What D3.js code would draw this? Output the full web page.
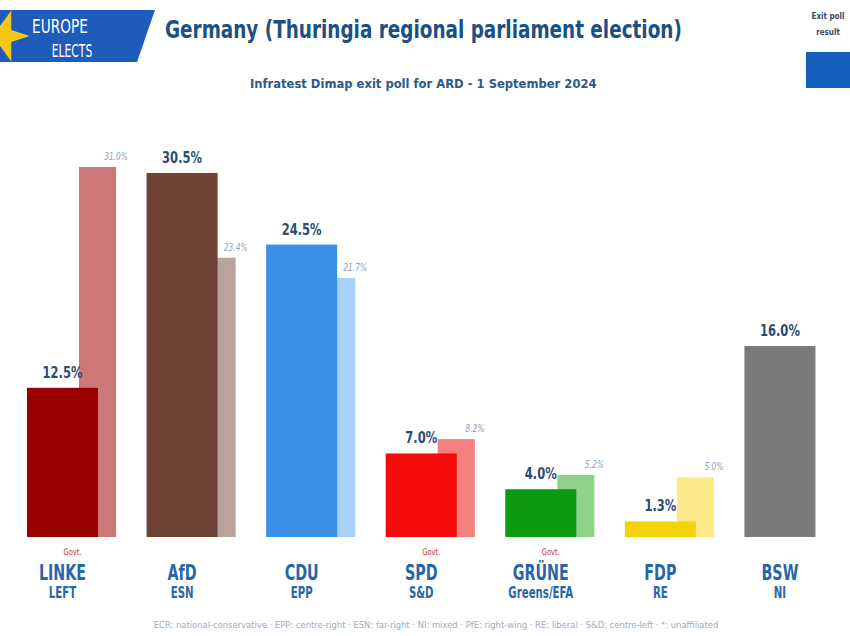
<!DOCTYPE html>
<html>
<head>
<meta charset="utf-8">
<script src="https://cdn.jsdelivr.net/npm/d3@7"></script>
<style>
  html, body { margin: 0; padding: 0; background: #fff; }
  svg { display: block; }
  text { font-family: 'DejaVu Sans', sans-serif; }
</style>
</head>
<body>
<svg id="chart" width="850" height="636"></svg>
<script>
// ---- data ----
const parties = ["LINKE", "AfD", "CDU", "SPD", "GRÜNE", "FDP", "BSW"];
const groups = ["LEFT", "ESN", "EPP", "S&D", "Greens/EFA", "RE", "NI"];
const exitPoll = [12.5, 30.5, 24.5, 7.0, 4.0, 1.3, 16.0];
const previous = [31.0, 23.4, 21.7, 8.2, 5.2, 5.0, null];
const govt = [true, false, false, true, true, false, false];
const mainColors = ["#990000", "#6e4336", "#3a8fe6", "#f50a0a", "#0c9a10", "#f5d10a", "#7a7a7a"];
const prevColors = ["#cc7878", "#b9a49d", "#a8d0fa", "#f58080", "#8ed389", "#fde887", null];
const title = "Germany (Thuringia regional parliament election)";
const subtitle = "Infratest Dimap exit poll for ARD - 1 September 2024";
const footnote = "ECR: national-conservative · EPP: centre-right · ESN: far-right · NI: mixed · PfE: right-wing · RE: liberal · S&D: centre-left · *: unaffiliated";

const svg = d3.select("#chart");

// ---- scales ----
const x = d3.scaleBand().domain(parties).range([27, 864]).padding(0);
const bw = x.bandwidth();
const mainW = bw * 0.594;
const prevOff = bw * 0.435;
const prevW = bw * 0.31;
const y = d3.scaleLinear().domain([0, 31]).range([537, 167]);

const data = parties.map((p, i) => ({ p, g: groups[i], v: exitPoll[i], pv: previous[i], govt: govt[i], c: mainColors[i], pc: prevColors[i] }));

// condensed text helper: group translated to anchor, horizontally squeezed
function condensed(sel, cls, rows, fx, fy, sx, txt, anchor) {
  const g = sel.selectAll("g." + cls).data(rows).join("g").attr("class", cls)
    .attr("transform", d => `translate(${fx(d)},${fy(d)}) scale(${sx},1)`);
  return g.append("text").attr("x", 0).attr("y", 0).attr("text-anchor", anchor || "middle").text(txt);
}
function single(sel, cls, px, py, sx, txt, anchor) {
  return condensed(sel, cls, [0], () => px, () => py, sx, () => txt, anchor);
}

// ---- logo ----
const logo = svg.append("g");
logo.append("path").attr("d", "M0,10 L155,10 L137,62 L0,62 Z").attr("fill", "#1d5cb8");
logo.append("path").attr("d", d3.symbol(d3.symbolStar, 800)()).attr("transform", "translate(3,36) rotate(18)").attr("fill", "#f5c518");
single(logo, "lg1", 60, 33, 0.72, "EUROPE").attr("font-size", 19).attr("fill", "#fff");
single(logo, "lg2", 72, 57, 0.6, "ELECTS").attr("font-size", 18).attr("fill", "#fff");

// ---- title ----
single(svg, "title", 165, 38, 0.737, title, "start").attr("fill", "#1c4f85").attr("font-size", 25).attr("font-weight", "bold");
single(svg, "subtitle", 250, 88, 0.89, subtitle, "start").attr("fill", "#2b5a86").attr("font-size", 13).attr("font-weight", "bold");

// ---- legend ----
single(svg, "leg1", 828, 19, 0.8, "Exit poll").attr("fill", "#3d4a5a").attr("font-size", 9).attr("font-weight", "bold");
single(svg, "leg2", 828, 35, 0.8, "result").attr("fill", "#3d4a5a").attr("font-size", 9).attr("font-weight", "bold");
svg.append("rect").attr("x", 806).attr("y", 52).attr("width", 50).attr("height", 36).attr("fill", "#1560bd");

// ---- previous bars ----
const pd = data.filter(d => d.pv !== null);
svg.append("g").selectAll("rect").data(pd).join("rect")
  .attr("x", d => x(d.p) + prevOff).attr("width", prevW)
  .attr("y", d => y(d.pv)).attr("height", d => y(0) - y(d.pv))
  .attr("fill", d => d.pc);
condensed(svg.append("g"), "plab", pd, d => x(d.p) + prevOff + prevW, d => y(d.pv) - 7, 0.75, d => d.pv.toFixed(1) + "%")
  .attr("font-size", 10).attr("font-style", "italic").attr("fill", "#8da2bd");

// ---- main bars ----
svg.append("g").selectAll("rect").data(data).join("rect")
  .attr("x", d => x(d.p)).attr("width", mainW)
  .attr("y", d => y(d.v)).attr("height", d => y(0) - y(d.v))
  .attr("fill", d => d.c);
condensed(svg.append("g"), "vlab", data, d => x(d.p) + mainW / 2, d => y(d.v) - 10, 0.72, d => d.v.toFixed(1) + "%")
  .attr("font-size", 16).attr("font-weight", "bold").attr("fill", "#2a4d72");

// ---- category labels ----
const cat = svg.append("g");
condensed(cat, "party", data, d => x(d.p) + mainW / 2, () => 580, 0.68, d => d.p)
  .attr("font-size", 21).attr("font-weight", "bold").attr("fill", "#2866a6");
condensed(cat, "grp", data, d => x(d.p) + mainW / 2, () => 598, 0.68, d => d.g)
  .attr("font-size", 15).attr("font-weight", "bold").attr("fill", "#2866a6");
condensed(cat, "govt", data.filter(d => d.govt), d => x(d.p) + mainW / 2 + 10, () => 555, 0.75, () => "Govt.")
  .attr("font-size", 9).attr("fill", "#c83232");

// ---- footnote ----
single(svg, "foot", 436, 628, 0.99, footnote).attr("fill", "#9aabc2").attr("font-size", 8.5);
</script>
</body>
</html>
